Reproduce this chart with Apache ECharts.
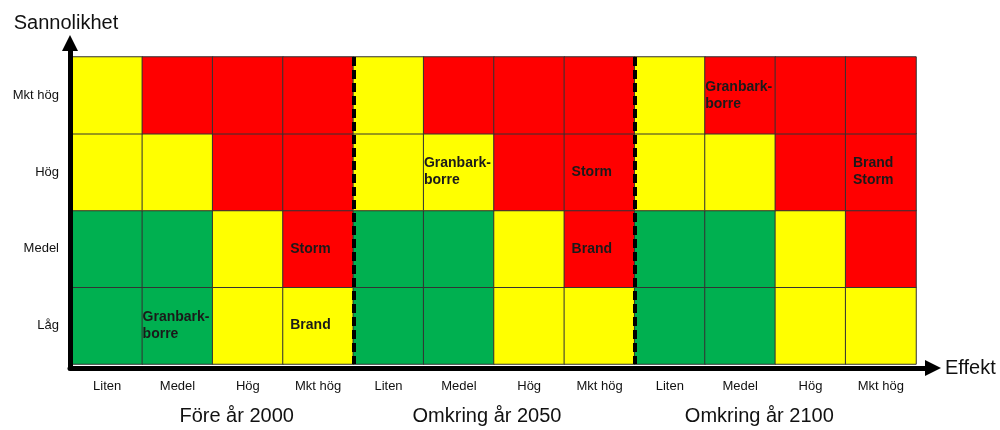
<!DOCTYPE html>
<html><head><meta charset="utf-8">
<script src="https://cdn.jsdelivr.net/npm/echarts@6/dist/echarts.min.js"></script>
<style>html,body{margin:0;padding:0;background:#fff}#c{width:1000px;height:430px}</style>
</head><body><div id="c"></div>
<script>
// ---- data ----
const periods = ['Före år 2000', 'Omkring år 2050', 'Omkring år 2100'];
const effectLevels = ['Liten', 'Medel', 'Hög', 'Mkt hög'];
const probabilityLevels = ['Låg', 'Medel', 'Hög', 'Mkt hög'];
// risk level per cell: 0 = grön, 1 = gul, 2 = röd; rows Låg..Mkt hög, cols Liten..Mkt hög
const riskFore2000 = [[0,0,1,1],[0,0,1,2],[1,1,2,2],[1,2,2,2]];
const riskOmkring2050 = [[0,0,1,1],[0,0,1,2],[1,1,2,2],[1,2,2,2]];
const riskOmkring2100 = [[0,0,1,1],[0,0,1,2],[1,1,2,2],[1,2,2,2]];
// threats: [effekt, sannolikhet, text]
const threatsFore2000 = [['Medel','Låg','Granbark-\nborre'],['Mkt hög','Låg','Brand'],['Mkt hög','Medel','Storm']];
const threatsOmkring2050 = [['Medel','Hög','Granbark-\nborre'],['Mkt hög','Hög','Storm'],['Mkt hög','Medel','Brand']];
const threatsOmkring2100 = [['Medel','Mkt hög','Granbark-\nborre'],['Mkt hög','Hög','Brand\nStorm']];
const riskColors = ['#00B050', '#FFFF00', '#FF0000'];

// ---- build ----
const riskTables = [riskFore2000, riskOmkring2050, riskOmkring2100];
const threatTables = [threatsFore2000, threatsOmkring2050, threatsOmkring2100];
const xCats = [];
periods.forEach(() => effectLevels.forEach(e => xCats.push(e)));
const cells = [];
riskTables.forEach((tab, g) => {
  tab.forEach((row, yi) => row.forEach((lvl, ei) => {
    const x = g * effectLevels.length + ei;
    const t = threatTables[g].find(d => effectLevels.indexOf(d[0]) === ei && probabilityLevels.indexOf(d[1]) === yi);
    const item = { value: [x, yi, lvl] };
    if (t) item.label = { show: true, formatter: t[2], distance: t[2].indexOf('Granbark') === 0 ? 1 : 8 };
    cells.push(item);
  }));
});

const FONT = '"Liberation Sans", Arial, Helvetica, sans-serif';
const chart = echarts.init(document.getElementById('c'), null, { renderer: 'canvas' });
const groupShift = [[0,0,0,48],[0,14,0,0],[0,32,0,0]];
const rich = {};
groupShift.forEach((p, i) => { rich['g' + i] = { padding: p, fontSize: 20, fontFamily: FONT, color: '#111' }; });

chart.setOption({
  animation: false,
  grid: [
    { left: 72, right: 84, top: 57, bottom: 66 },
    { left: 70, right: 67, top: 43, bottom: 62 }
  ],
  visualMap: {
    show: false, type: 'piecewise', dimension: 2, seriesIndex: 0,
    pieces: riskColors.map((c, i) => ({ value: i, color: c }))
  },
  xAxis: [
    { type: 'category', gridIndex: 0, data: xCats,
      axisLine: { show: false }, axisTick: { show: false }, splitLine: { show: false },
      axisLabel: { fontFamily: FONT, fontSize: 13, color: '#111', margin: 16, interval: 0 } },
    { type: 'category', gridIndex: 0, data: periods, position: 'bottom',
      axisLine: { show: false }, axisTick: { show: false }, splitLine: { show: false },
      axisLabel: { margin: 42, interval: 0, formatter: (v, i) => '{g' + i + '|' + v + '}', rich: rich } },
    { type: 'category', gridIndex: 0, data: xCats, position: 'top', z: 10,
      axisLine: { show: false }, axisTick: { show: false }, axisLabel: { show: false },
      splitLine: { show: true, showMaxLine: false,
        interval: (i) => i > 0 && i < xCats.length && i % effectLevels.length === 0,
        lineStyle: { color: '#000', width: 4, type: [9, 4] } } },
    { type: 'value', gridIndex: 1, min: 0, max: 1, z: 10,
      axisLine: { show: true, symbol: ['none', 'triangle'], symbolSize: [16, 16], lineStyle: { color: '#000', width: 5 } },
      axisTick: { show: false }, axisLabel: { show: false }, splitLine: { show: false },
      name: 'Effekt', nameLocation: 'end', nameGap: 12,
      nameTextStyle: { fontFamily: FONT, fontSize: 20, color: '#111' } }
  ],
  yAxis: [
    { type: 'category', gridIndex: 0, data: probabilityLevels,
      axisLine: { show: false }, axisTick: { show: false }, splitLine: { show: false },
      axisLabel: { fontFamily: FONT, fontSize: 13, color: '#111', margin: 13 } },
    { type: 'value', gridIndex: 1, min: 0, max: 1, z: 10,
      axisLine: { show: true, symbol: ['none', 'triangle'], symbolSize: [16, 16], lineStyle: { color: '#000', width: 5 } },
      axisTick: { show: false }, axisLabel: { show: false }, splitLine: { show: false },
      name: 'Sannolikhet', nameLocation: 'end', nameGap: 10,
      nameTextStyle: { fontFamily: FONT, fontSize: 20, color: '#111', padding: [0, 8, 0, 0] } }
  ],
  series: [{
    type: 'heatmap', xAxisIndex: 0, yAxisIndex: 0, data: cells,
    itemStyle: { borderColor: '#333', borderWidth: 1 },
    label: { show: false, position: 'insideLeft', fontFamily: FONT, fontWeight: 'bold', fontSize: 14, color: '#1a1a1a', lineHeight: 17 },
    emphasis: { disabled: true }
  }]
});
</script>
</body></html>
